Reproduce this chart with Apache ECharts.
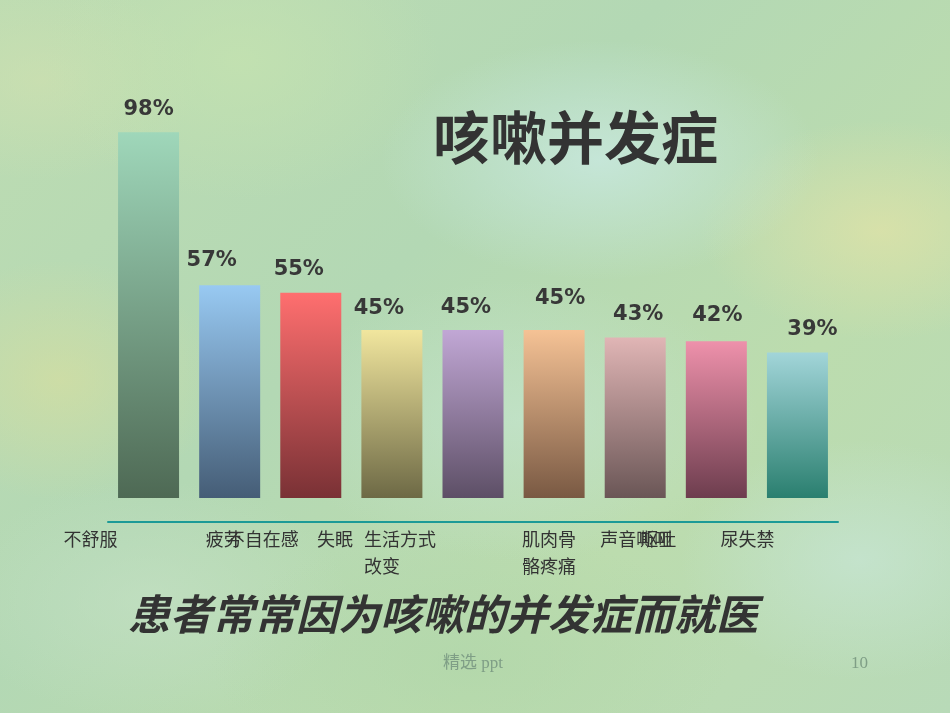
<!DOCTYPE html>
<html>
<head>
<meta charset="utf-8">
<script src="https://cdn.jsdelivr.net/npm/echarts@6/dist/echarts.min.js"></script>
<style>
html,body{margin:0;padding:0;width:950px;height:713px;overflow:hidden;}
body{
  background-color:#b7dbae;
  background-image:
    radial-gradient(ellipse 220px 120px at 600px 160px, rgba(200,232,222,0.85), rgba(200,232,222,0) 100%),
    radial-gradient(ellipse 180px 110px at 880px 230px, rgba(222,226,168,0.8), rgba(222,226,168,0) 100%),
    radial-gradient(ellipse 160px 120px at 60px 380px, rgba(214,222,160,0.7), rgba(214,222,160,0) 100%),
    radial-gradient(ellipse 200px 140px at 240px 60px, rgba(196,226,176,0.8), rgba(196,226,176,0) 100%),
    radial-gradient(ellipse 240px 140px at 520px 420px, rgba(196,228,206,0.7), rgba(196,228,206,0) 100%),
    radial-gradient(ellipse 260px 130px at 470px 660px, rgba(176,214,170,0.7), rgba(176,214,170,0) 100%),
    radial-gradient(ellipse 180px 120px at 860px 560px, rgba(200,230,214,0.7), rgba(200,230,214,0) 100%),
    radial-gradient(ellipse 200px 120px at 150px 600px, rgba(196,224,196,0.7), rgba(196,224,196,0) 100%),
    radial-gradient(ellipse 160px 100px at 40px 80px, rgba(206,224,176,0.7), rgba(206,224,176,0) 100%),
    linear-gradient(135deg, #bddcb2 0%, #b3d8b4 40%, #bcdcae 70%, #b8dab8 100%);
}
#chart{position:absolute;left:0;top:0;width:950px;height:713px;}
</style>
</head>
<body>
<div id="chart"></div>
<script>
// ---- data ----
const categories = ['不舒服', '疲劳', '不自在感', '失眠', '生活方式改变', '肌肉骨骼疼痛', '声音嘶哑', '呕吐', '尿失禁'];
const values = [98, 57, 55, 45, 45, 45, 43, 42, 39];
const titleText = '咳嗽并发症';
const subtitleText = '患者常常因为咳嗽的并发症而就医';
const footerText = '精选 ppt';
const pageNumber = '10';

// ---- styles / layout ----
const topColors = ['#9fd7ba', '#98c9f2', '#ff6f6f', '#f1e69e', '#c1a7d5', '#f5c295', '#e0b5b5', '#ee91ab', '#a2d5d9'];
const bottomColors = ['#4e6954', '#455d76', '#793135', '#6d6945', '#5d4f66', '#795943', '#6a5656', '#6d3d4e', '#2a7f6f'];
const valueLabelShift = [[0, 0], [-18, -2], [-12, -1], [-13, 1], [-7, 0], [6, -9], [3, 0], [1, -3], [15, 0]];
const tickLabelLeft = [-85, -24, -84, -75, -109, -32, -35, -76, -77];
const tickLabelWidth = [null, null, null, null, 74, 56, null, null, null];

const chart = echarts.init(document.getElementById('chart'), null, {renderer: 'canvas'});

const xData = categories.map((c, i) => {
  const ts = {align: 'left', padding: [0, 0, 0, tickLabelLeft[i]]};
  if (tickLabelWidth[i]) { ts.width = tickLabelWidth[i]; ts.overflow = 'break'; }
  return {value: c, textStyle: ts};
});

const seriesData = values.map((v, i) => ({
  value: v,
  itemStyle: {
    color: new echarts.graphic.LinearGradient(0, 0, 0, 1, [
      {offset: 0, color: topColors[i]},
      {offset: 1, color: bottomColors[i]}
    ])
  },
  label: {offset: valueLabelShift[i]}
}));

const option = {
  backgroundColor: 'transparent',
  animation: false,
  grid: {left: 108, right: 112, top: 124.8, bottom: 215, containLabel: false},
  xAxis: {
    type: 'category',
    data: xData,
    offset: 24,
    axisLine: {show: true, onZero: false, lineStyle: {color: '#1c9a97', width: 2}},
    axisTick: {show: false},
    axisLabel: {
      interval: 0,
      color: '#333333',
      fontSize: 18,
      fontFamily: 'Noto Sans CJK SC',
      align: 'left',
      lineHeight: 27,
      margin: 4
    },
    splitLine: {show: false}
  },
  yAxis: {
    type: 'value',
    min: 0,
    max: 100,
    show: false
  },
  series: [{
    type: 'bar',
    data: seriesData,
    barWidth: 61,
    label: {
      show: true,
      position: 'top',
      distance: 12,
      formatter: '{c}%',
      fontFamily: 'DejaVu Sans',
      fontWeight: 'bold',
      fontSize: 21,
      color: '#383838'
    }
  }],
  graphic: [
    {
      type: 'text',
      left: 433,
      top: 109,
      style: {
        text: titleText,
        font: 'bold 57px "Noto Sans CJK SC"',
        fill: '#333333'
      }
    },
    {
      type: 'text',
      left: 128,
      top: 593,
      style: {
        text: subtitleText,
        font: 'italic bold 42px "Noto Sans CJK SC"',
        fill: '#333333'
      }
    },
    {
      type: 'text',
      left: 443,
      top: 655,
      style: {
        text: footerText,
        font: '17px "Liberation Serif", "Noto Sans CJK SC"',
        fill: '#7f9e86'
      }
    },
    {
      type: 'text',
      left: 851,
      top: 655,
      style: {
        text: pageNumber,
        font: '17px "Liberation Serif"',
        fill: '#7f9e86'
      }
    }
  ]
};
chart.setOption(option);
</script>
</body>
</html>
